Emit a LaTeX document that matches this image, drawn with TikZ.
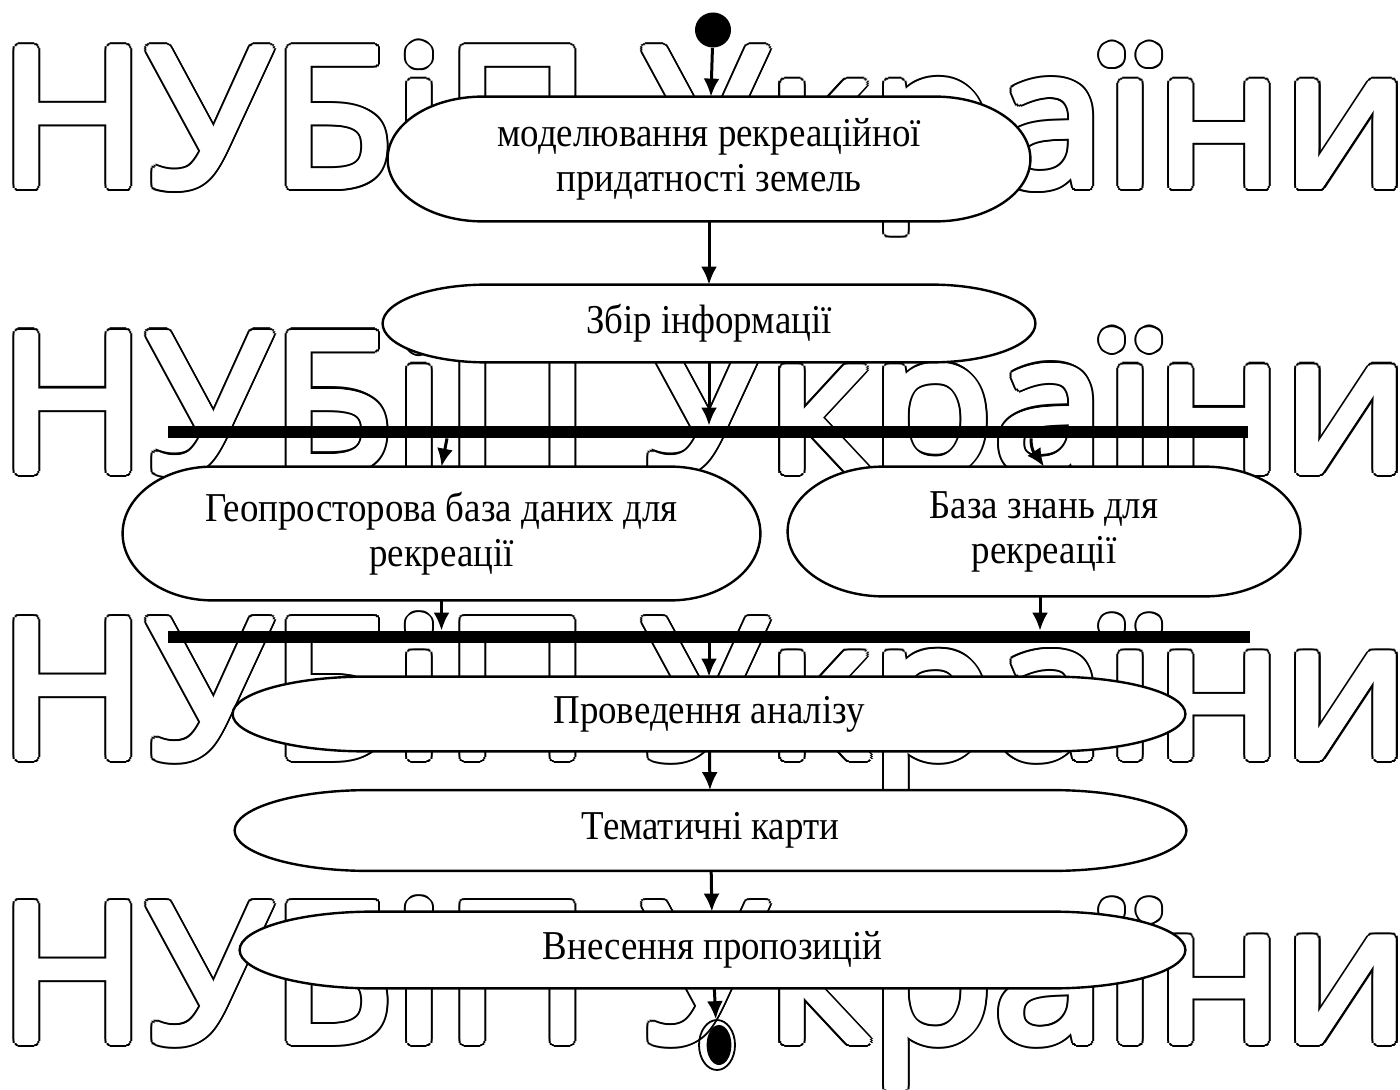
\documentclass[tikz,border=0pt]{standalone}
\usepackage{fontspec}
\setmainfont{Liberation Serif}[FakeStretch=0.9]
\newfontfamily\wmfont{Open Sans}
\usepackage{graphicx}
\usetikzlibrary{shapes.geometric,arrows.meta,calc}
\pgfdeclarelayer{wm}
\pgfdeclarelayer{bg}
\pgfsetlayers{wm,bg,main}
\newcommand\actfont{\fontsize{20.5}{22.5}\selectfont}
\newcommand\wmstr{\resizebox{705.5pt}{\height}{\wmfont\fontsize{96.5}{100}\selectfont НУБіП України}}
\tikzset{
  act/.style={inner sep=0pt, align=center, font=\actfont},
  stadline/.style={draw=black, fill=white, line width=1.2pt},
  bar/.style={fill=black, inner sep=0pt, minimum height=6pt},
  arr/.style={-{Latex[length=9pt,width=8pt]}, line width=1.5pt},
  wmrow/.style={anchor=base west, inner sep=0pt}
}
\newcommand\stadium[2]{%
  \path[stadline] let \p1=(#1.north west), \p2=(#1.south east), \n1={(\y1-\y2)/2} in
    (\x1+#2,\y1) -- (\x2-#2,\y1)
    arc[start angle=90,end angle=-90,x radius=#2,y radius=\n1]
    -- (\x1+#2,\y2)
    arc[start angle=270,end angle=90,x radius=#2,y radius=\n1] -- cycle;}
\newcommand\wmrowdraw[2]{%
  \foreach \a in {0,22.5,...,337.5}{\node[wmrow, text=black] at ($(-1.5,#2)+(\a:2.75pt)$) {\wmstr};}
  \foreach \a in {0,30,...,330}{\node[wmrow, text=white] at ($(-1.5,#2)+(\a:1.75pt)$) {\wmstr};}
  \node[wmrow, text=white] (#1) at (-1.5,#2) {\wmstr};}
\begin{document}
\begin{tikzpicture}[x=0.5pt,y=-0.5pt]
\useasboundingbox (0,0) rectangle (1400,1090);
% nodes
\node[act, minimum width=321pt, minimum height=62pt] (n1) at (709,159) {моделювання рекреаційної\\придатності земель};
\node[act, minimum width=326pt, minimum height=38.5pt] (n2) at (709,323.5) {Збір інформації};
\node[act, minimum width=318.5pt, minimum height=66.5pt] (n3) at (441.5,533.5) {Геопросторова база даних для\\рекреації};
\node[act, minimum width=256pt, minimum height=64.5pt] (n4) at (1044,531.5) {База знань для\\рекреації};
\node[act, minimum width=476pt, minimum height=37pt] (n5) at (709,714) {Проведення аналізу};
\node[act, minimum width=475.5pt, minimum height=40pt] (n6) at (710.5,830.5) {Тематичні карти};
\node[act, minimum width=472.5pt, minimum height=38pt] (n7) at (712.5,950) {Внесення пропозицій};
\node[bar, minimum width=540pt] (f1) at (708,432) {};
\node[bar, minimum width=541pt] (f2) at (709,637) {};
\node[ellipse, fill=black, inner sep=0pt, minimum width=18pt, minimum height=17.5pt] (start) at (713,30) {};
\node[ellipse, draw=black, line width=0.9pt, inner sep=0pt, minimum width=18pt, minimum height=25pt] (end) at (717,1045) {};
\fill ([xshift=1pt]end.center) ellipse [x radius=6.2pt, y radius=10pt];
% watermark
\begin{pgfonlayer}{wm}
\fill[white] (0,0) rectangle (1400,1090);
\wmrowdraw{wm1}{186.5}
\wmrowdraw{wm2}{471.5}
\wmrowdraw{wm3}{757.5}
\wmrowdraw{wm4}{1041.5}
\end{pgfonlayer}
% shapes
\begin{pgfonlayer}{bg}
\stadium{n1}{47.5pt}
\stadium{n2}{52pt}
\stadium{n3}{45pt}
\stadium{n4}{48pt}
\stadium{n5}{67pt}
\stadium{n6}{67pt}
\stadium{n7}{67pt}
\end{pgfonlayer}
% connectors
\draw[arr] (start) -- (n1);
\draw[arr] (n1) -- (n2);
\draw[arr] (n2.south) -- (n2.south |- f1.north);
\draw[arr] ($(n3.north |- f1.south)+(5.5,0)$) -- (n3.north);
\draw[arr] ($(n4.north |- f1.south)+(-13,0)$) .. controls +(0,14) and +(-8,-12) .. (n4.north);
\draw[arr] (n3.south) -- (n3.south |- f2.north);
\draw[arr] ($(n4.south)+(-4,0)$) -- ($(n4.south |- f2.north)+(-4,0)$);
\draw[arr] (n5.north |- f2.south) -- (n5.north);
\draw[arr] (n5) -- (n6);
\draw[arr] (n6) -- (n7);
\draw[arr] (n7) -- (end);
\end{tikzpicture}
\end{document}
